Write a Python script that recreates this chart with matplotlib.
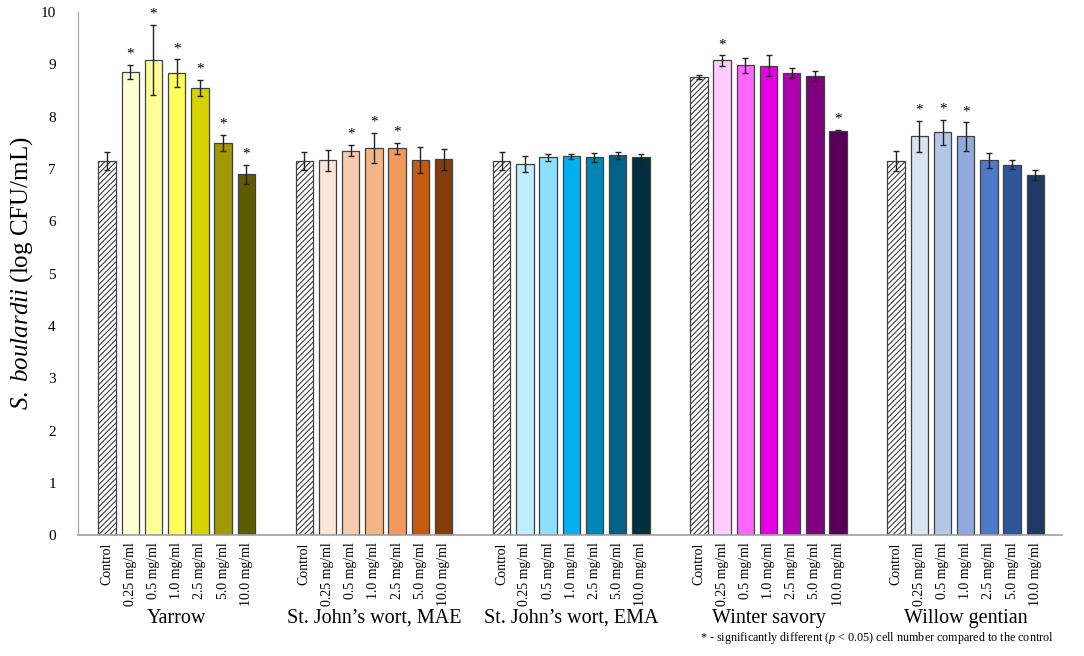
import numpy as np
import matplotlib.pyplot as plt

plt.rcParams['font.family'] = 'Liberation Serif'
plt.rcParams['mathtext.fontset'] = 'custom'
plt.rcParams['mathtext.it'] = 'Liberation Serif:italic'
plt.rcParams['mathtext.rm'] = 'Liberation Serif'
plt.rcParams['hatch.color'] = '#808080'
plt.rcParams['hatch.linewidth'] = 0.8

# data
groups = ["Yarrow", "St. John\u2019s wort, MAE", "St. John\u2019s wort, EMA",
          "Winter savory", "Willow gentian"]
doses = ["Control", "0.25 mg/ml", "0.5 mg/ml", "1.0 mg/ml",
         "2.5 mg/ml", "5.0 mg/ml", "10.0 mg/ml"]

yarrow = [7.15, 8.85, 9.08, 8.83, 8.55, 7.50, 6.90]
yarrow_err = [0.18, 0.13, 0.67, 0.26, 0.15, 0.15, 0.18]
mae = [7.15, 7.16, 7.35, 7.40, 7.39, 7.17, 7.18]
mae_err = [0.18, 0.20, 0.11, 0.29, 0.10, 0.25, 0.20]
ema = [7.15, 7.09, 7.22, 7.24, 7.22, 7.26, 7.23]
ema_err = [0.18, 0.15, 0.07, 0.05, 0.08, 0.07, 0.06]
savory = [8.76, 9.07, 8.98, 8.97, 8.83, 8.77, 7.72]
savory_err = [0.04, 0.10, 0.14, 0.20, 0.10, 0.10, 0.03]
gentian = [7.15, 7.62, 7.70, 7.62, 7.16, 7.08, 6.88]
gentian_err = [0.20, 0.30, 0.24, 0.27, 0.15, 0.08, 0.10]

values = [yarrow, mae, ema, savory, gentian]
errors = [yarrow_err, mae_err, ema_err, savory_err, gentian_err]

# asterisk = significantly different from control
signif = [[0, 1, 1, 1, 1, 1, 1],
          [0, 0, 1, 1, 1, 0, 0],
          [0, 0, 0, 0, 0, 0, 0],
          [0, 1, 0, 0, 0, 0, 1],
          [0, 1, 1, 1, 0, 0, 0]]

colors = [["white", "#FFFDD2", "#FFFF99", "#FFFF5C", "#D8D200", "#A09A00", "#5F5C00"],
          ["white", "#FBE5D6", "#F8CBAD", "#F4B586", "#F29A5C", "#C55A11", "#843C0C"],
          ["white", "#BDEEFF", "#8EE0FF", "#00B0F0", "#0085B5", "#006286", "#00303F"],
          ["white", "#FFCCFF", "#FF66FF", "#E600E6", "#B000B0", "#800080", "#580058"],
          ["white", "#DAE3F3", "#B4C7E7", "#8FAADC", "#4D7AC8", "#2F5597", "#1F3864"]]

fig = plt.figure(figsize=(10.84, 6.56), dpi=100)
ax = fig.add_axes([0.072, 0.184, 0.908, 0.798])

step = 8.5
for g in range(len(groups)):
    x = g * step + np.arange(len(doses))
    for i in range(len(doses)):
        ax.bar(x[i], values[g][i], width=0.75, color=colors[g][i],
               edgecolor='#404040', linewidth=0.9,
               hatch='//////' if i == 0 else None, zorder=2)
        ax.errorbar(x[i], values[g][i], yerr=errors[g][i], fmt='none',
                    ecolor='#222222', elinewidth=1.0, capsize=2.5, capthick=1.0, zorder=3)
        if signif[g][i]:
            ax.text(x[i], values[g][i] + errors[g][i] + 0.08, '*', ha='center',
                    va='bottom', fontsize=11)
        ax.text(x[i], -0.14, doses[i], rotation=90, ha='center', va='top', fontsize=10)
    ax.text(x.mean(), -1.59, groups[g], ha='center', va='center', fontsize=14.5)

ax.set_xlim(-1.25, 4 * step + 6 + 1.16)
ax.set_ylim(0, 10)
ax.set_yticks(range(0, 11))
ax.set_xticks([])
ax.tick_params(axis='y', length=0, labelsize=11, pad=16)
ax.set_ylabel(r"$\mathit{S.\ boulardii}$ (log CFU/mL)", fontsize=18, labelpad=4)
for s in ['top', 'right']:
    ax.spines[s].set_visible(False)
ax.spines['left'].set_color('#a0a0a0')
ax.spines['bottom'].set_color('#a0a0a0')
ax.spines['bottom'].set_linewidth(1.2)

fig.text(0.972, 0.027, r"* - significantly different ($\mathit{p}$ < 0.05) cell number compared to the control",
         ha='right', va='center', fontsize=8.7)

fig.savefig('out.png', dpi=100)
